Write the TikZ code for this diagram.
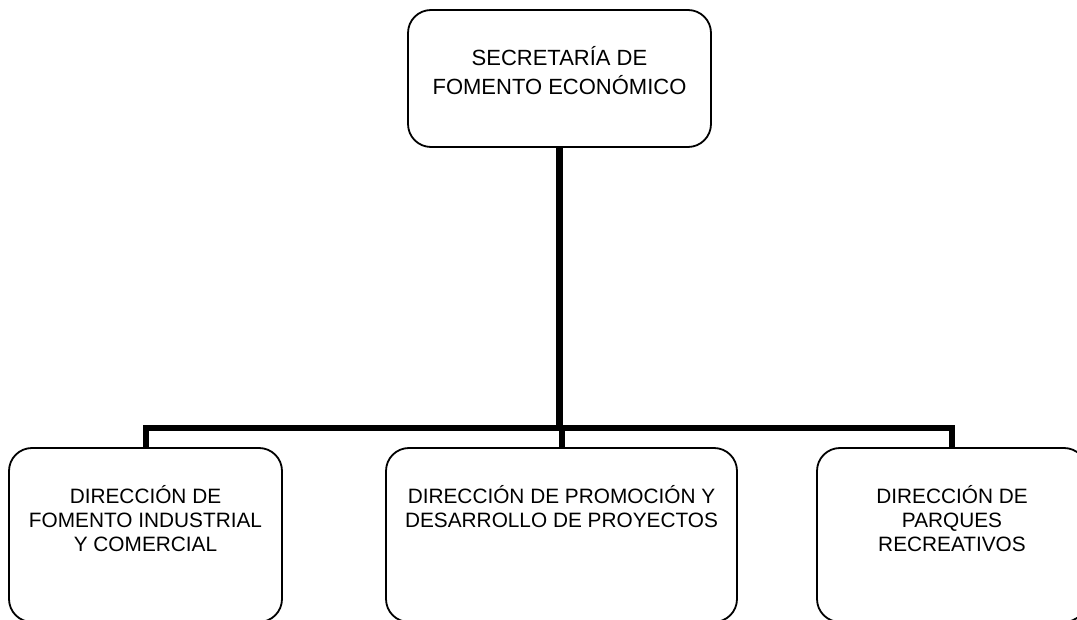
\documentclass[tikz,border=0pt]{standalone}
\usepackage{fontspec}
\setmainfont{Liberation Sans}
\usepackage{tikz}
\usetikzlibrary{positioning}

\begin{document}
\begin{tikzpicture}[line cap=butt,line join=miter,x=1pt,y=-1pt,
  orgbox/.style={draw,line width=1.8pt,rounded corners=23pt,inner sep=0pt,minimum height=174pt},
  orgtext/.style={anchor=base,align=center,inner sep=0pt,font=\fontsize{20.8}{24}\selectfont},
  trunk/.style={line width=7pt},
  branch/.style={line width=6pt}]
\useasboundingbox (0,0) rectangle (1077,620);
\clip (0,0) rectangle (1077,620);
% boxes
\node[orgbox,minimum width=303pt,minimum height=137pt] (sec) at (559.5,78.5) {};
\node[orgbox,minimum width=273pt] (fomento) at (145.5,535) {};
\node[orgbox,minimum width=351pt] (promocion) at (561.5,535) {};
\node[orgbox,minimum width=270pt] (parques) at (952,535) {};
% texts (base = last line)
\node[orgtext,font=\fontsize{22}{29}\selectfont] (sectext) at ([yshift=-85pt]sec.north) {SECRETARÍA DE\\FOMENTO ECONÓMICO};
\node[orgtext] (fomentotext) at ([yshift=-104pt]fomento.north) {DIRECCIÓN DE\\FOMENTO INDUSTRIAL\\Y COMERCIAL};
\node[orgtext] (promociontext) at ([yshift=-80pt]promocion.north) {DIRECCIÓN DE PROMOCIÓN Y\\DESARROLLO DE PROYECTOS};
\node[orgtext] (parquestext) at ([yshift=-104pt]parques.north) {DIRECCIÓN DE\\PARQUES\\RECREATIVOS};
% lines
\coordinate (bar) at (559.5,427.5);
\draw[trunk] (sec.south) -- (sec.south |- bar);
\draw[branch] (fomento.north) -- (fomento.north |- bar) -- (parques.north |- bar) -- (parques.north);
\draw[branch] (promocion.north) -- (promocion.north |- bar);
\end{tikzpicture}
\end{document}
